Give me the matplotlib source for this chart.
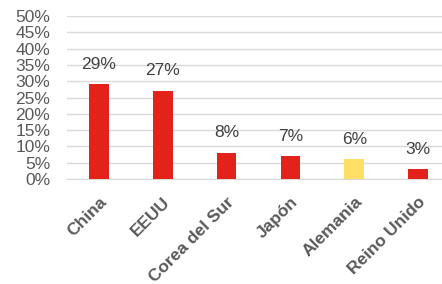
import matplotlib.pyplot as plt

paises = ['China', 'EEUU', 'Corea del Sur', 'Japón', 'Alemania', 'Reino Unido']
valores = [29, 27, 8, 7, 6, 3]
colores = ['#e3231b', '#e3231b', '#e3231b', '#e3231b', '#ffdf66', '#e3231b']

plt.rcParams['font.family'] = ['Liberation Sans', 'DejaVu Sans']

fig = plt.figure(figsize=(4.42, 2.84), dpi=100)
ax = fig.add_axes([67/442, 1 - 179/284, (442 - 67)/442, (179 - 16)/284])

x = range(len(paises))
ax.bar(x, valores, width=0.31, color=colores, zorder=3)

for i, v in zip(x, valores):
	ax.annotate(f'{v}%', (i, v), xytext=(0, 20), textcoords='offset pixels',
		ha='center', va='center', fontsize=12.5, color='#404040')

ax.set_ylim(0, 50)
ax.set_xlim(-0.5, 5.375)
ax.set_yticks(range(0, 51, 5))
ax.set_yticklabels([f'{t}%' for t in range(0, 51, 5)], fontsize=12.5, color='#595959')
ax.yaxis.grid(True, color='#d9d9d9', linewidth=1, zorder=0)
ax.tick_params(axis='y', length=0, pad=12)
ax.tick_params(axis='x', length=0, pad=11)
ax.set_xticks(list(x))
ax.set_xticklabels(paises, rotation=45, ha='right', rotation_mode='anchor',
	fontsize=12.5, fontweight='bold', color='#595959')

for s in ['top', 'right', 'left']:
	ax.spines[s].set_visible(False)
ax.spines['bottom'].set_color('#d9d9d9')

fig.savefig('out.png', dpi=100)
